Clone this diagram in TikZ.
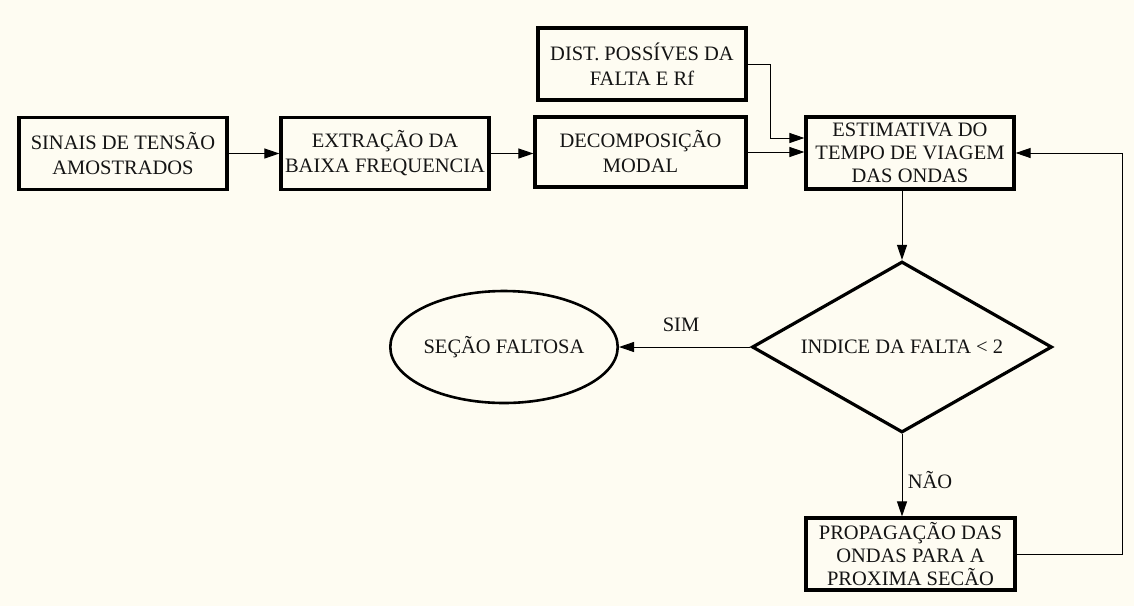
\documentclass[tikz,border=0pt]{standalone}
\usepackage{fontspec}
\setmainfont{Liberation Serif}
\usetikzlibrary{shapes.geometric,arrows.meta}
\definecolor{bg}{RGB}{254,252,242}
\definecolor{ink}{RGB}{20,20,20}
\begin{document}
\begin{tikzpicture}[x=1pt,y=-1pt,
  txt/.style={font=\fontsize{20.5}{25}\selectfont,text=ink},
  box/.style={txt,draw=black,line width=3.2pt,minimum width=208pt,minimum height=72pt,align=center,inner sep=0pt},
  box3/.style={box,font=\fontsize{20.5}{23}\selectfont},
  conn/.style={draw=black,line width=1pt,-{Triangle[length=15pt,width=10pt]}},
  plain/.style={draw=black,line width=1pt}]
\path[fill=bg] (0,0) rectangle (1134,606);

\node[box] (sin) at (123,153.5) {SINAIS DE TENSÃO\\AMOSTRADOS};
\node[box] (ext) at (385,153.5) {EXTRAÇÃO DA\\BAIXA FREQUENCIA};
\node[box,minimum width=211pt,minimum height=70pt] (dec) at (640.5,152) {DECOMPOSIÇÃO\\MODAL};
\node[box] (dist) at (642,64) {DIST. POSSÍVES DA\\FALTA E Rf};
\node[box3] (est) at (910,153) {ESTIMATIVA DO\\TEMPO DE VIAGEM\\DAS ONDAS};
\node[txt,draw=black,line width=3.2pt,shape=diamond,aspect=1.75,minimum width=300pt,minimum height=171pt,inner sep=0pt] (dia) at (902,347) {INDICE DA FALTA < 2};
\node[txt,draw=black,line width=2.6pt,shape=ellipse,minimum width=213pt,minimum height=112pt,inner sep=0pt] (ell) at (504,347) {SEÇÃO FALTOSA};
\node[box3,minimum width=209pt] (prop) at (910.5,554) {PROPAGAÇÃO DAS\\ONDAS PARA A\\PROXIMA SECÃO};

\node[txt] (sim) at (681,325) {SIM};
\node[txt] (nao) at (930,480) {NÃO};

\coordinate (dk) at (770,138);
\coordinate (fb) at (1122,350);

\draw[conn] (sin) -- (ext);
\draw[conn] (ext) -- (ext -| dec.west);
\draw[conn] (dec.east) -- (dec.east -| est.west);
\draw[conn] (dist.east) -| (dk) -- (dk -| est.west);
\draw[conn] (est.south -| dia.north) -- (dia.north);
\draw[conn] (dia.west) -- (ell.east);
\draw[conn] (dia.south) -- (dia.south |- prop.north);
\draw[conn] (prop.east) -- (prop.east -| fb) -- (est.east -| fb) -- (est.east);
\end{tikzpicture}
\end{document}
